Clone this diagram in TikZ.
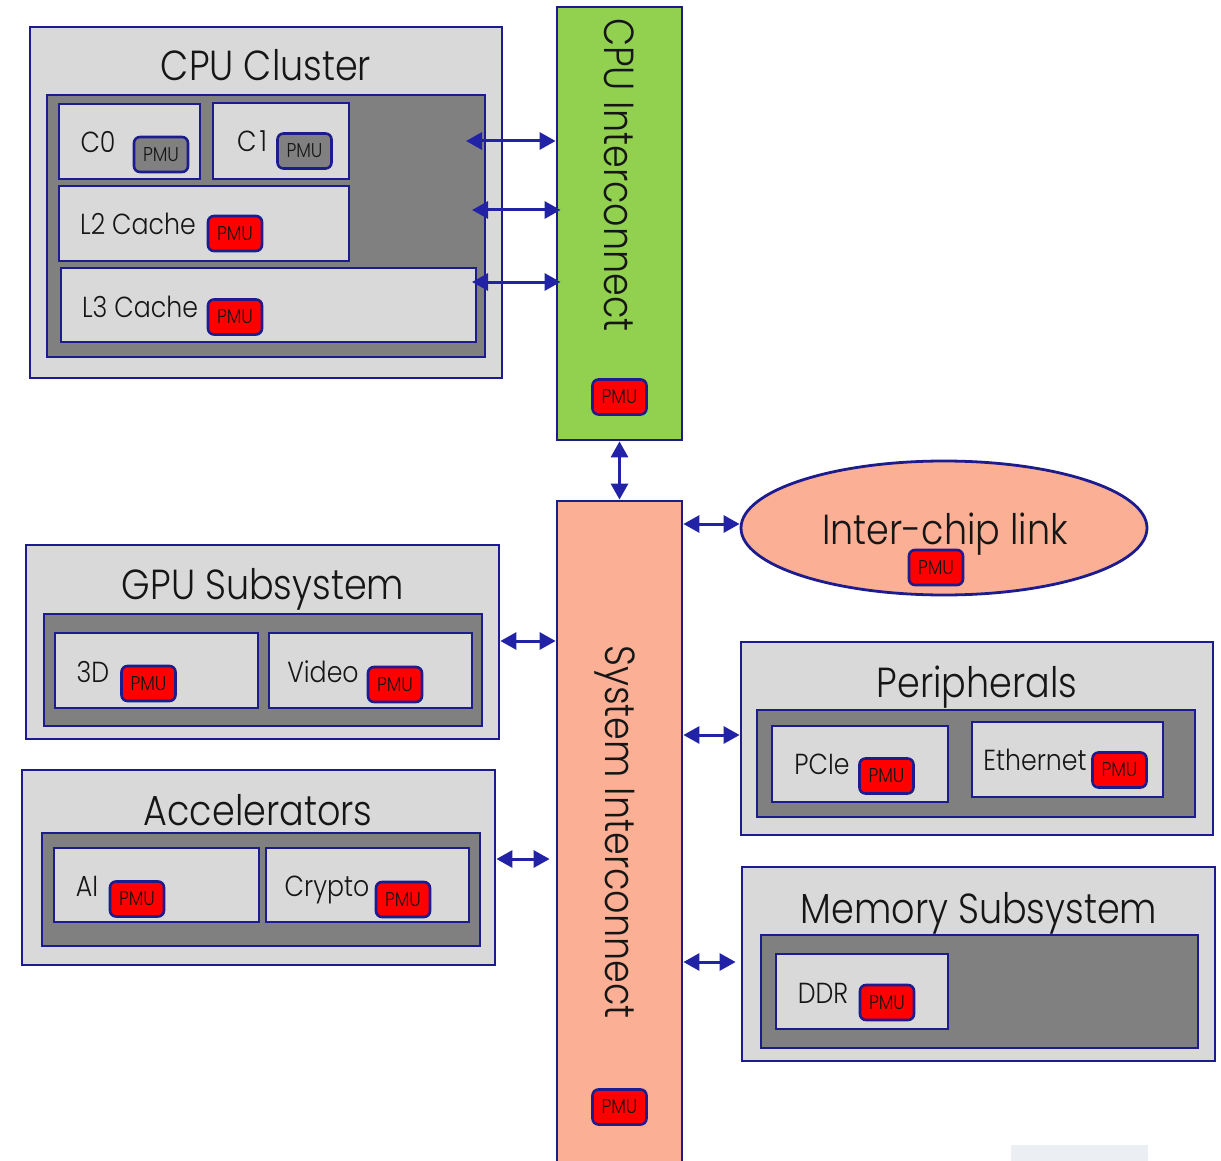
\documentclass[tikz,border=0pt]{standalone}
\usepackage{fontspec}
\setmainfont{Poppins Light}[FakeStretch=0.87]
\usetikzlibrary{arrows.meta,fit,shapes.geometric}

\definecolor{navy}{HTML}{1C1C8E}
\definecolor{linkblue}{HTML}{2222A6}
\definecolor{panel}{HTML}{D9D9D9}
\definecolor{well}{HTML}{808080}
\definecolor{cpugreen}{HTML}{92D050}
\definecolor{salmon}{HTML}{FBAF95}
\definecolor{pmured}{HTML}{FF0000}
\definecolor{ink}{HTML}{161616}
\definecolor{haze}{HTML}{EBEEF3}

\newcommand\TitleFont{\fontsize{42}{42}\selectfont}
\newcommand\LabelFont{\fontsize{29}{29}\selectfont}
\newcommand\PmuFont{\fontsize{20}{20}\selectfont}
\newcommand\BusFont{\fontsize{42}{42}\selectfont}

\begin{document}
\begin{tikzpicture}[x=1pt,y=-1pt,
  every node/.style={text=ink},
  panelbox/.style={draw=navy, line width=2.8pt, fill=panel, inner sep=0pt},
  wellbox/.style={draw=navy, line width=2.8pt, fill=well, inner sep=0pt},
  busbox/.style={draw=navy, line width=2.8pt, inner sep=0pt},
  pmu/.style={draw=navy, line width=2.6pt, rounded corners=6pt, fill=pmured,
    minimum width=54pt, minimum height=35pt, inner sep=0pt, font=\PmuFont},
  idlepmu/.style={pmu, fill=well},
  ttl/.style={anchor=base, font=\TitleFont, inner sep=0pt},
  lbl/.style={anchor=base, font=\LabelFont, inner sep=0pt},
  buslbl/.style={anchor=base, rotate=-90, font=\BusFont, inner sep=0pt},
  biarrow/.style={draw=linkblue, line width=3pt,
    {Triangle[length=16pt,width=17pt]}-{Triangle[length=16pt,width=17pt]}},
]
\clip (0,0) rectangle (1221,1161);
\fill[white] (0,0) rectangle (1221,1161);

% ---- CPU cluster ----
\node[panelbox, fit={(30,27) (502,378)}] (cpu) {};
\node[ttl] (cputitle) at (266,81) {CPU Cluster};
\node[wellbox, fit={(47,95) (485,357)}] (cpuwell) {};
\node[panelbox, fit={(59,104) (200,179)}] (c0) {};
\node[lbl] (c0name) at (98,153) {C0};
\node[idlepmu] (c0pmu) at (161,154.5) {PMU};
\node[panelbox, fit={(213,103) (349,179)}] (c1) {};
\node[lbl] (c1name) at (252,152) {C\kern3pt 1};
\node[idlepmu] (c1pmu) at (304.5,151) {PMU};
\node[panelbox, fit={(59,186) (349,261)}] (l2) {};
\node[lbl] (l2name) at (138,235) {L2 Cache};
\node[pmu] (l2pmu) at (235,233.5) {PMU};
\node[panelbox, fit={(61,268) (476,342)}] (l3) {};
\node[lbl] (l3name) at (140,317) {L3 Cache};
\node[pmu] (l3pmu) at (235,317) {PMU};

% ---- interconnects ----
\node[busbox, fill=cpugreen, fit={(557,7) (682,440)}] (cpuic) {};
\node[buslbl] (cpuicname) at (604,175) {CPU Interconnect};
\node[pmu] (cpuicpmu) at (619.5,397) {PMU};
\node[busbox, fill=salmon, fit={(557,501) (682,1175)}] (sysic) {};
\node[buslbl] (sysicname) at (605,832) {System Interconnect};
\node[pmu] (sysicpmu) at (619.5,1107) {PMU};

% ---- inter-chip link ----
\node[ellipse, draw=navy, line width=2.8pt, fill=salmon, inner sep=0pt,
  minimum width=406pt, minimum height=134pt] (link) at (944,528) {};
\node[ttl] (linkname) at (945,544) {Inter-chip link};
\node[pmu] (linkpmu) at (936,567.5) {PMU};

% ---- GPU subsystem ----
\node[panelbox, fit={(26,545) (499,739)}] (gpu) {};
\node[ttl] (gputitle) at (263,599) {GPU Subsystem};
\node[wellbox, fit={(44,614) (482,726)}] (gpuwell) {};
\node[panelbox, fit={(55,633) (258,708)}] (g3d) {};
\node[lbl] (g3dname) at (93,682) {3D};
\node[pmu] (g3dpmu) at (148.5,683.5) {PMU};
\node[panelbox, fit={(269,633) (472,708)}] (video) {};
\node[lbl] (videoname) at (323,682) {Video};
\node[pmu] (videopmu) at (395,684.5) {PMU};

% ---- accelerators ----
\node[panelbox, fit={(22,770) (495,965)}] (acc) {};
\node[ttl] (acctitle) at (258,825) {Accelerators};
\node[wellbox, fit={(42,833) (480,946)}] (accwell) {};
\node[panelbox, fit={(54,848) (259,922)}] (ai) {};
\node[lbl] (ainame) at (87,896) {AI};
\node[pmu] (aipmu) at (137,899) {PMU};
\node[panelbox, fit={(266,848) (469,922)}] (crypto) {};
\node[lbl] (cryptoname) at (327,896) {Crypto};
\node[pmu] (cryptopmu) at (403,899.5) {PMU};

% ---- peripherals ----
\node[panelbox, fit={(741,642) (1213,835)}] (periph) {};
\node[ttl] (periphtitle) at (977,697) {Peripherals};
\node[wellbox, fit={(757,710) (1195,817)}] (periphwell) {};
\node[panelbox, fit={(772,726) (948,802)}] (pcie) {};
\node[lbl] (pciename) at (822,774) {PCIe};
\node[pmu] (pciepmu) at (886.5,776) {PMU};
\node[panelbox, fit={(972,722) (1163,797)}] (eth) {};
\node[lbl] (ethname) at (1035,770) {Ethernet};
\node[pmu] (ethpmu) at (1119.5,770) {PMU};

% ---- memory subsystem ----
\node[panelbox, fit={(742,867) (1215,1061)}] (mem) {};
\node[ttl] (memtitle) at (979,923) {Memory Subsystem};
\node[wellbox, fit={(761,935) (1198,1048)}] (memwell) {};
\node[panelbox, fit={(776,954) (948,1029)}] (ddr) {};
\node[lbl] (ddrname) at (823,1003) {DDR};
\node[pmu] (ddrpmu) at (887,1002.5) {PMU};

% ---- links ----
\coordinate (coreport) at (466,141);
\coordinate (l2port) at (472,210);
\coordinate (l3port) at (472,282);
\draw[biarrow] (coreport) -- (coreport -| cpuic.west);
\draw[biarrow] (l2port) -- ([xshift=5pt]l2port -| cpuic.west);
\draw[biarrow] (l3port) -- ([xshift=5pt]l3port -| cpuic.west);
\draw[biarrow] (cpuic.south) -- (sysic.north);
\draw[biarrow] (sysic.east |- 0,524) -- (link.west |- 0,524);
\draw[biarrow] (gpu.east |- 0,641) -- (sysic.west |- 0,641);
\draw[biarrow] (acc.east |- 0,859) -- ([xshift=-6pt]sysic.west |- 0,859);
\draw[biarrow] (sysic.east |- 0,735) -- (periph.west |- 0,735);
\draw[biarrow] (sysic.east |- 0,962) -- ([xshift=-5pt]mem.west |- 0,962);

% faint patch at the lower edge
\fill[haze] (1011,1145) rectangle (1148,1161);
\end{tikzpicture}
\end{document}
